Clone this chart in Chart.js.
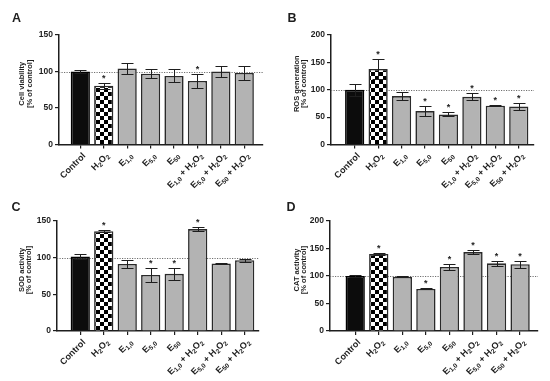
<!DOCTYPE html>
<html><head><meta charset="utf-8">
<script src="https://cdn.jsdelivr.net/npm/chart.js@4/dist/chart.umd.min.js"></script>
<style>
html,body{margin:0;padding:0;background:#fff;}
#wrap{position:relative;width:550px;height:381px;overflow:hidden;background:#fff;}
canvas{position:absolute;}
</style></head><body>
<div id="wrap">
<canvas id="cA" width="275" height="190" style="left:0px;top:0px;width:275px;height:190px"></canvas>
<canvas id="cB" width="275" height="190" style="left:275px;top:0px;width:275px;height:190px"></canvas>
<canvas id="cC" width="275" height="191" style="left:0px;top:190px;width:275px;height:191px"></canvas>
<canvas id="cD" width="275" height="191" style="left:275px;top:190px;width:275px;height:191px"></canvas>
</div>
<script>
// ---- data ----
const categories = ['Control', 'H_2O_2', 'E_{1,0}', 'E_{5,0}', 'E_{50}', 'E_{1,0} + H_2O_2', 'E_{5,0} + H_2O_2', 'E_{50} + H_2O_2'];

const viabilityMean = [100, 80.5, 104, 97, 94, 87, 100, 98];
const viabilityErr  = [1.5, 4, 8, 6, 9, 9, 8, 9];
const viabilitySig  = [0, 1, 0, 0, 0, 1, 0, 0];
const viabilityTicks = [0, 50, 100, 150];

const rosMean = [100, 138, 88.5, 61, 55, 87, 71, 69.5];
const rosErr  = [11, 19, 7, 9.5, 3.5, 6.5, 1, 6.5];
const rosSig  = [0, 1, 0, 1, 1, 1, 1, 1];
const rosTicks = [0, 50, 100, 150, 200];

const sodMean = [101.5, 136, 91.5, 76.5, 78, 139, 92, 96.5];
const sodErr  = [3, 1.5, 5, 10, 8.5, 2.5, 1, 2];
const sodSig  = [0, 1, 0, 1, 1, 1, 0, 0];
const sodTicks = [0, 50, 100, 150];

const catMean = [100, 140, 98.5, 76.5, 116.5, 143.5, 123, 121.5];
const catErr  = [1.5, 2, 1, 1, 6, 3.5, 5, 6.5];
const catSig  = [0, 1, 0, 1, 1, 1, 1, 1];
const catTicks = [0, 50, 100, 150, 200];

const referenceLevel = 100;

// ---- styling ----
const FONT = "'Liberation Sans', Arial, sans-serif";
const INK = '#1e1e1e';

function checker() {
  const c = document.createElement('canvas');
  c.width = 8; c.height = 8;
  const g = c.getContext('2d');
  g.fillStyle = '#fff'; g.fillRect(0, 0, 8, 8);
  g.fillStyle = '#000'; g.fillRect(0, 0, 4, 4); g.fillRect(4, 4, 4, 4);
  return g.createPattern(c, 'repeat');
}

function parseLabel(s) {
  const segs = [];
  let i = 0;
  while (i < s.length) {
    if (s[i] === '_') {
      if (s[i + 1] === '{') {
        const j = s.indexOf('}', i);
        segs.push({ t: s.slice(i + 2, j), sub: true });
        i = j + 1;
      } else {
        segs.push({ t: s[i + 1], sub: true });
        i += 2;
      }
    } else {
      let j = i;
      while (j < s.length && s[j] !== '_') j++;
      segs.push({ t: s.slice(i, j), sub: false });
      i = j;
    }
  }
  return segs;
}

const panelPlugin = {
  id: 'panel',
  beforeDatasetsDraw(chart, args, o) {
    const ctx = chart.ctx, a = chart.chartArea, y = chart.scales.y;
    const py = Math.round(y.getPixelForValue(referenceLevel)) + 0.5;
    ctx.save();
    ctx.strokeStyle = '#707070';
    ctx.lineWidth = 1;
    ctx.setLineDash([1.2, 1.3]);
    ctx.beginPath(); ctx.moveTo(a.left, py); ctx.lineTo(a.right, py); ctx.stroke();
    ctx.restore();
  },
  afterDatasetsDraw(chart, args, o) {
    const ctx = chart.ctx, y = chart.scales.y;
    const meta = chart.getDatasetMeta(0);
    ctx.save();
    ctx.strokeStyle = INK;
    ctx.lineWidth = 1;
    meta.data.forEach((bar, i) => {
      const m = o.mean[i], e = o.err[i];
      const x = Math.round(bar.x) + 0.5;
      const yt = Math.round(y.getPixelForValue(m + e)) + 0.5;
      const yb = Math.round(y.getPixelForValue(m - e)) + 0.5;
      ctx.beginPath();
      ctx.moveTo(x, yb); ctx.lineTo(x, yt);
      ctx.moveTo(x - 6, yt); ctx.lineTo(x + 6, yt);
      ctx.moveTo(x - 6, yb); ctx.lineTo(x + 6, yb);
      ctx.stroke();
      if (o.sig[i]) {
        ctx.fillStyle = INK;
        ctx.font = 'bold 9px ' + FONT;
        ctx.textAlign = 'center';
        ctx.textBaseline = 'alphabetic';
        ctx.fillText('*', bar.x, yt - 2.5);
      }
    });
    ctx.restore();
  },
  afterDraw(chart, args, o) {
    const ctx = chart.ctx, a = chart.chartArea, xs = chart.scales.x;
    ctx.save();
    ctx.fillStyle = INK;
    // panel letter
    ctx.font = 'bold 12.5px ' + FONT;
    ctx.textAlign = 'center';
    ctx.textBaseline = 'middle';
    ctx.fillText(o.letter, o.letterX, o.letterY);
    // axis title (two lines, vertical)
    const cy = (a.top + a.bottom) / 2 - 6;
    ctx.font = 'bold 7.5px ' + FONT;
    o.title.forEach((line, k) => {
      ctx.save();
      ctx.translate(o.titleX[k], cy);
      ctx.rotate(-Math.PI / 2);
      ctx.textAlign = 'center';
      ctx.textBaseline = 'middle';
      ctx.fillText(line, 0, 0);
      ctx.restore();
    });
    // category labels with subscripts, rotated 45 deg
    const mainF = 'bold 9px ' + FONT, subF = 'bold 6.5px ' + FONT;
    categories.forEach((lab, i) => {
      const segs = parseLabel(lab);
      let w = 0;
      segs.forEach(s => { ctx.font = s.sub ? subF : mainF; s.w = ctx.measureText(s.t).width; w += s.w; });
      const px = xs.getPixelForValue(i);
      ctx.save();
      ctx.translate(px + 4, a.bottom + 10);
      ctx.rotate(-Math.PI / 4);
      ctx.textAlign = 'left';
      ctx.textBaseline = 'middle';
      let cx = -w;
      segs.forEach(s => {
        ctx.font = s.sub ? subF : mainF;
        ctx.fillText(s.t, cx, s.sub ? 2.5 : 0);
        cx += s.w;
      });
      ctx.restore();
    });
    ctx.restore();
  }
};

function makeChart(id, g, mean, err, sig, ticks, letter, title) {
  const pat = checker();
  const fills = categories.map((c, i) => i === 0 ? '#0c0c0c' : (i === 1 ? pat : '#b3b3b3'));
  const borders = categories.map((c, i) => i === 0 ? '#000' : '#2a2a2a');
  const gridOpts = { display: true, drawOnChartArea: false, drawTicks: true, tickLength: 4, color: INK, lineWidth: 1.2, offset: false };
  new Chart(document.getElementById(id), {
    type: 'bar',
    data: {
      datasets: [{
        data: mean.map((v, i) => ({ x: i, y: v })),
        backgroundColor: fills,
        borderColor: borders,
        borderWidth: 1.6,
        barPercentage: 0.82,
        categoryPercentage: 1
      }]
    },
    options: {
      responsive: false,
      animation: false,
      devicePixelRatio: 1,
      layout: { padding: { top: g.top, right: g.right, left: 0, bottom: 0 } },
      plugins: {
        legend: { display: false },
        tooltip: { enabled: false },
        panel: { mean, err, sig, letter, title, letterX: g.lx, letterY: g.ly, titleX: g.tx }
      },
      scales: {
        x: {
          type: 'linear', min: g.xmin, max: g.xmax, offset: false,
          afterBuildTicks: s => { s.ticks = categories.map((c, i) => ({ value: i })); },
          afterFit: s => { s.height = g.xh; },
          ticks: { display: false },
          grid: gridOpts,
          border: { display: true, color: INK, width: 1.5 }
        },
        y: {
          min: 0, max: ticks[ticks.length - 1],
          afterBuildTicks: s => { s.ticks = ticks.map(v => ({ value: v })); },
          afterFit: s => { s.width = g.yw; },
          ticks: { font: { family: FONT, weight: 'bold', size: 8.5 }, color: INK, padding: 2 },
          grid: gridOpts,
          border: { display: true, color: INK, width: 1.5 }
        }
      }
    },
    plugins: [panelPlugin]
  });
}

makeChart('cA', { top: 35, right: 12, yw: 59, xh: 45.5, xmin: -0.91, xmax: 7.8, lx: 16.5, ly: 19, tx: [22, 29.5] },
  viabilityMean, viabilityErr, viabilitySig, viabilityTicks, 'A', ['Cell viability', '[% of control]']);
makeChart('cB', { top: 35, right: 16, yw: 56, xh: 45.5, xmin: -1.01, xmax: 7.65, lx: 17, ly: 19, tx: [21.5, 28.5] },
  rosMean, rosErr, rosSig, rosTicks, 'B', ['ROS generation', '[% of control]']);
makeChart('cC', { top: 31, right: 16, yw: 57, xh: 50, xmin: -0.99, xmax: 7.61, lx: 16, ly: 17.5, tx: [21.5, 28.5] },
  sodMean, sodErr, sodSig, sodTicks, 'C', ['SOD activity', '[% of control]']);
makeChart('cD', { top: 31, right: 12, yw: 55, xh: 50, xmin: -1.07, xmax: 7.76, lx: 16, ly: 17.5, tx: [21.5, 28.5] },
  catMean, catErr, catSig, catTicks, 'D', ['CAT activity', '[% of control]']);
</script>
</body></html>
